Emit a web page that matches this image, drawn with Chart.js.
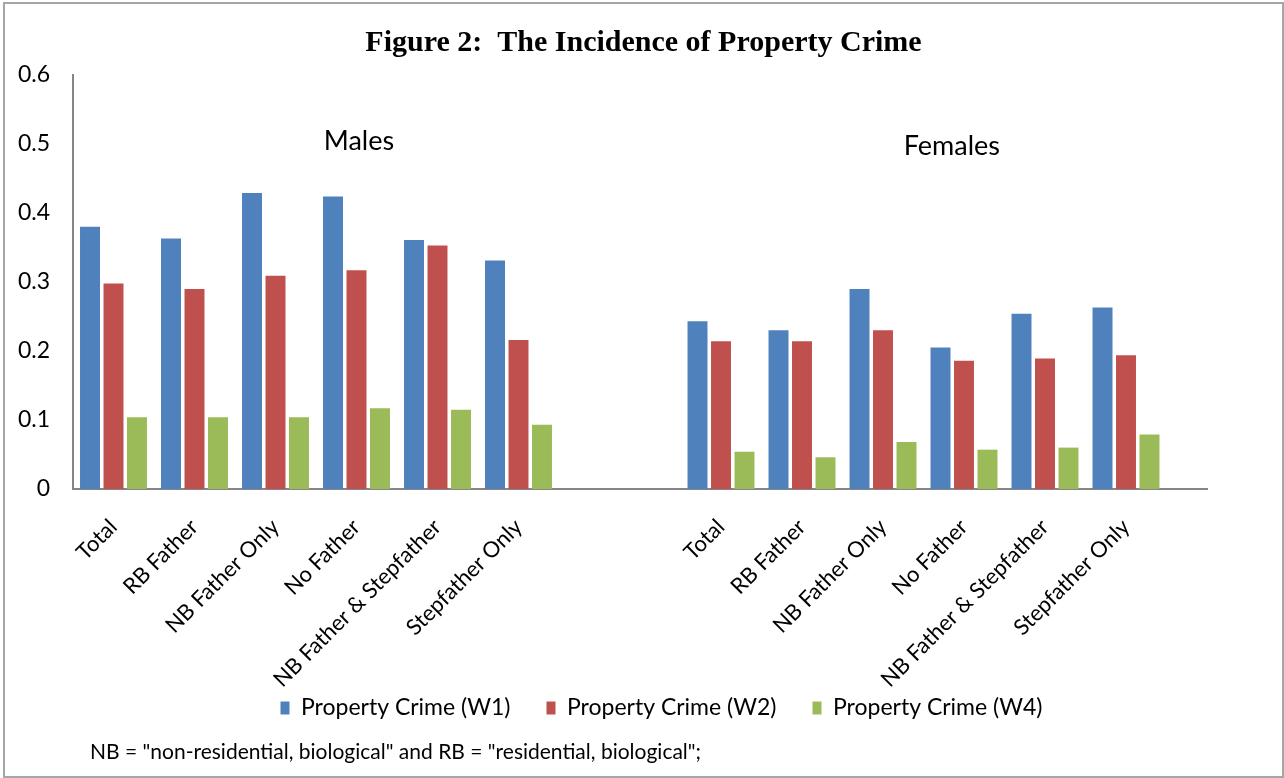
<!DOCTYPE html>
<html>
<head>
<meta charset="utf-8">
<script src="https://cdn.jsdelivr.net/npm/chart.js@4.4.1/dist/chart.umd.min.js"></script>
<style>
  html, body { margin: 0; padding: 0; background: #fff; }
  #wrap { position: absolute; left: 3px; top: 2px; width: 1277px; height: 772px; border: 2px solid #a6a6a6; }
  canvas { display: block; }
</style>
</head>
<body>
<div id="wrap"><canvas id="crime" width="1277" height="772"></canvas></div>
<script>
// family types, same for both sexes
const categories = ["Total", "RB Father", "NB Father Only", "No Father", "NB Father & Stepfather", "Stepfather Only"];

// share reporting property crime, by wave
const maleW1   = [0.380, 0.363, 0.429, 0.424, 0.361, 0.331];
const maleW2   = [0.298, 0.290, 0.309, 0.317, 0.353, 0.216];
const maleW4   = [0.104, 0.104, 0.104, 0.117, 0.115, 0.093];
const femaleW1 = [0.243, 0.230, 0.290, 0.205, 0.254, 0.263];
const femaleW2 = [0.214, 0.214, 0.230, 0.186, 0.189, 0.194];
const femaleW4 = [0.054, 0.046, 0.068, 0.057, 0.060, 0.079];

const seriesNames = ["Property Crime (W1)", "Property Crime (W2)", "Property Crime (W4)"];
const yTicks = [0, 0.1, 0.2, 0.3, 0.4, 0.5, 0.6];

const colors = ["#4F81BD", "#C0504D", "#9BBB59"];
const font = "Lato";

// the axis is laid out on half-category slots so the gap between
// the male and female groups can be wider than one category
const SLOTS = 29;
const maleSlot = i => 2 * i + 1;
const femaleSlot = i => 2 * i + 16;

const labels = new Array(SLOTS).fill("");
categories.forEach((c, i) => { labels[maleSlot(i)] = c; labels[femaleSlot(i)] = c; });

function slotData(male, female) {
  const out = new Array(SLOTS).fill(null);
  male.forEach((v, i) => out[maleSlot(i)] = v);
  female.forEach((v, i) => out[femaleSlot(i)] = v);
  return out;
}

const datasets = [
  slotData(maleW1, femaleW1),
  slotData(maleW2, femaleW2),
  slotData(maleW4, femaleW4)
].map((d, k) => ({
  label: seriesNames[k],
  data: d,
  backgroundColor: colors[k],
  borderWidth: 0,
  categoryPercentage: 1.74,
  barPercentage: 0.85
}));

const groupNotes = {
  id: "groupNotes",
  // the rotated labels run down into the legend's top padding, as in Excel
  afterLayout(chart) {
    const lg = chart.legend;
    lg.top -= 28.5;
    lg.bottom -= 28.5;
    lg.left += 18;
    lg.right += 18;
  },
  afterDraw(chart) {
    const { ctx, scales: { x, y } } = chart;
    ctx.save();
    ctx.fillStyle = "#000";
    ctx.font = "27px " + font;
    ctx.textAlign = "center";
    ctx.textBaseline = "middle";
    ctx.fillText("Males", x.getPixelForValue(7.06), y.getPixelForValue(0.504));
    ctx.fillText("Females", x.getPixelForValue(21.7), y.getPixelForValue(0.497));
    ctx.font = "21px " + font;
    ctx.textAlign = "left";
    ctx.fillText('NB = "non-residential, biological" and RB = "residential, biological";', 85, 748);
    ctx.restore();
  }
};

new Chart(document.getElementById("crime"), {
  type: "bar",
  data: { labels: labels, datasets: datasets },
  plugins: [groupNotes],
  options: {
    responsive: false,
    animation: false,
    layout: { padding: { left: 0, right: 0, top: 0, bottom: 18 } },
    plugins: {
      title: {
        display: true,
        text: "Figure 2:  The Incidence of Property Crime",
        color: "#000",
        font: { family: "Liberation Serif", size: 30, weight: "bold" },
        padding: { top: 21, bottom: 14 }
      },
      legend: {
        position: "bottom",
        labels: {
          color: "#000",
          font: { family: font, size: 23 },
          boxWidth: 9,
          boxHeight: 13,
          padding: 36
        }
      },
      tooltip: { enabled: false }
    },
    scales: {
      x: {
        offset: false,
        grid: { display: false, drawTicks: false },
        border: { color: "#868686", width: 2 },
        afterFit: s => { s.height = 200; s.paddingRight = 75; s.paddingLeft = 0; },
        ticks: {
          autoSkip: false,
          maxRotation: 45,
          minRotation: 45,
          padding: 25,
          color: "#000",
          font: { family: font, size: 22 }
        }
      },
      y: {
        min: 0,
        max: 0.6,
        afterBuildTicks: axis => { axis.ticks = yTicks.map(v => ({ value: v })); },
        afterFit: s => { s.width = 68; },
        grid: { display: false, drawTicks: false },
        border: { color: "#868686", width: 2 },
        ticks: {
          padding: 23,
          color: "#000",
          font: { family: font, size: 23 }
        }
      }
    }
  }
});
</script>
</body>
</html>
